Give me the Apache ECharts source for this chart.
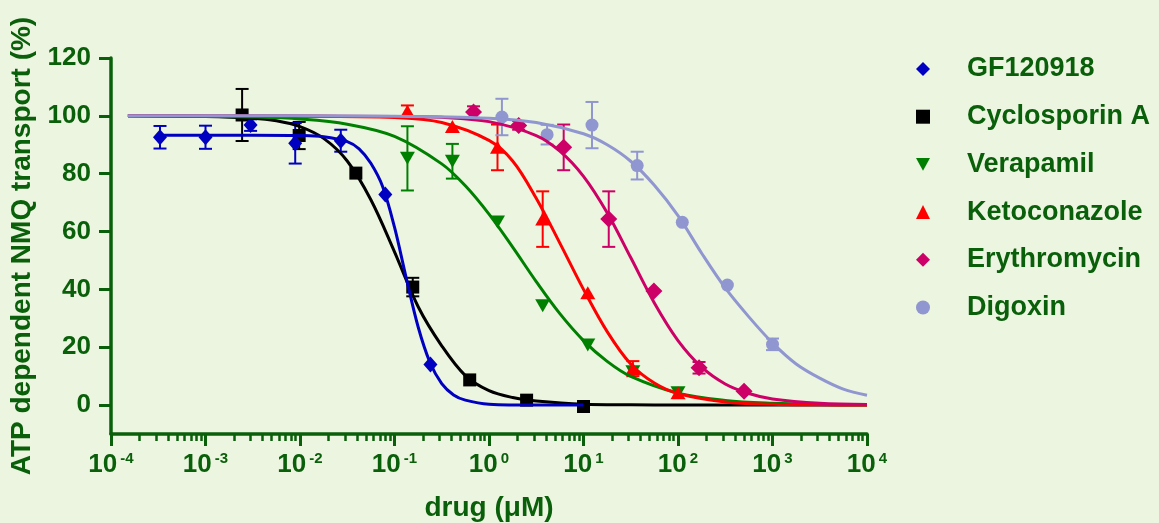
<!DOCTYPE html>
<html>
<head>
<meta charset="utf-8">
<script src="https://cdn.jsdelivr.net/npm/echarts@6/dist/echarts.min.js"></script>
<style>
  html, body { margin: 0; padding: 0; background: #ecf5e0; }
  #chart { width: 1159px; height: 523px; }
</style>
</head>
<body>
<div id="chart"></div>
<script>
const xExponents = [-4, -3, -2, -1, 0, 1, 2, 3, 4];
const yTicks = [0, 20, 40, 60, 80, 100, 120];

// measured points: concentration (uM), mean (%), error (0 = hidden by marker)
const gfConc = [0.00033, 0.001, 0.003, 0.0089, 0.027, 0.08, 0.24];
const gfMean = [92.6, 92.6, 96.8, 90.5, 91.4, 72.8, 14];
const gfErr = [3.9, 4, 2, 7, 3.8, 0, 0];

const csaConc = [0.00244, 0.0098, 0.039, 0.156, 0.625, 2.5, 10];
const csaMean = [100.3, 93.2, 80.2, 40.8, 8.7, 1.7, -0.5];
const csaErr = [9, 4.7, 0, 3.2, 0, 0, 0];

const verConc = [0.137, 0.41, 1.23, 3.7, 11.1, 33.3, 100];
const verMean = [85.3, 84.3, 63.3, 34.3, 20.8, 11.5, 4.3];
const verErr = [11.1, 6, 0, 0, 0, 0, 0];

const ketoConc = [0.137, 0.41, 1.23, 3.7, 11.1, 33.3, 100];
const ketoMean = [101.6, 96.3, 89.1, 64.3, 38.8, 12.6, 4.3];
const ketoErr = [2, 0, 7.9, 9.6, 0, 2.6, 0];

const eryConc = [0.686, 2.06, 6.17, 18.5, 55.6, 167, 500];
const eryMean = [101.3, 96.7, 89.1, 64.3, 39.4, 12.9, 4.8];
const eryErr = [2, 1.5, 7.9, 9.6, 0, 2, 0];

const digConc = [1.37, 4.12, 12.3, 37, 111, 333, 1000];
const digMean = [99.6, 93.5, 96.8, 82.8, 63.2, 41.5, 21];
const digErr = [6.3, 3.4, 8, 4.8, 0, 0, 2];

// fitted curves
const gfFitX = [0.00033, 0.001, 0.00316, 0.01, 0.0178, 0.0316, 0.0422, 0.0562, 0.075, 0.1, 0.133, 0.178, 0.237, 0.316, 0.422, 0.562, 1, 3.16, 10];
const gfFitY = [93.3, 93.3, 93.3, 93.2, 92.8, 91.1, 88.6, 83.6, 75.5, 61.5, 44, 27, 14.8, 7.4, 3.5, 1.7, 0.3, 0, 0];

const csaFitX = [0.000151, 0.001, 0.00316, 0.00562, 0.01, 0.0178, 0.0316, 0.0562, 0.1, 0.178, 0.316, 0.562, 1, 1.78, 3.16, 10, 31.6, 100, 1000, 10000];
const csaFitY = [100, 99.8, 99.2, 98.3, 96.3, 92.2, 84.4, 71, 53, 34, 20.5, 10.2, 5, 2.6, 1.4, 0.3, 0.1, 0, 0, 0];

const verFitX = [0.000151, 0.001, 0.00316, 0.01, 0.0316, 0.1, 0.316, 0.562, 1, 1.78, 3.16, 5.62, 10, 17.8, 31.6, 100, 316, 1000, 3160, 10000];
const verFitY = [100, 99.8, 99.6, 98.9, 97.1, 92.9, 83.4, 75.8, 66, 54.6, 42.7, 31.6, 22.3, 15.1, 9.9, 4.1, 1.6, 0.6, 0.2, 0.1];

const ketoFitX = [0.000151, 0.01, 0.1, 0.316, 1, 1.78, 3.16, 5.62, 10, 17.8, 31.6, 56.2, 100, 316, 1000, 3160, 10000];
const ketoFitY = [100, 99.9, 99.4, 97.7, 91.5, 84.4, 71.5, 56, 40, 25.4, 14.2, 7.6, 4, 1.1, 0.3, 0.1, 0];

const eryFitX = [0.000151, 0.1, 0.316, 1, 3.16, 5.62, 10, 17.8, 31.6, 56.2, 100, 178, 316, 562, 1000, 3160, 10000];
const eryFitY = [100, 99.8, 99.5, 98, 93.2, 87.8, 79.1, 66.5, 51, 35.3, 22.3, 13.1, 7.3, 4, 2.1, 0.6, 0.2];

const digFitX = [0.000151, 0.01, 0.1, 1, 3.16, 10, 17.8, 31.6, 56.2, 100, 178, 316, 562, 1000, 1780, 3160, 5620, 10000];
const digFitY = [100, 100, 99.9, 99.2, 97.7, 93.8, 90, 84.3, 76, 65.5, 52.5, 40.5, 30.5, 21.5, 14.2, 9.3, 5.5, 3.4];

const INK = "#0a5f0a";
const SANS = "'Liberation Sans', Arial, sans-serif";
const TRIANGLE_DOWN = "path://M0,0L10,0L5,9Z";

// drawing order follows the reference (later ones on top)
const drugs = [
  { name: "Cyclosporin A", color: "#000000", symbol: "rect", size: [13, 13], rotate: 0, conc: csaConc, mean: csaMean, err: csaErr, fitX: csaFitX, fitY: csaFitY },
  { name: "GF120918", color: "#0000c0", symbol: "diamond", size: [14, 16], rotate: 0, conc: gfConc, mean: gfMean, err: gfErr, fitX: gfFitX, fitY: gfFitY },
  { name: "Verapamil", color: "#008000", symbol: "triangle", size: [15, 13], rotate: 180, conc: verConc, mean: verMean, err: verErr, fitX: verFitX, fitY: verFitY },
  { name: "Ketoconazole", color: "#ff0000", symbol: "triangle", size: [15, 13], rotate: 0, conc: ketoConc, mean: ketoMean, err: ketoErr, fitX: ketoFitX, fitY: ketoFitY },
  { name: "Erythromycin", color: "#cc0066", symbol: "diamond", size: [17, 17], rotate: 0, conc: eryConc, mean: eryMean, err: eryErr, fitX: eryFitX, fitY: eryFitY },
  { name: "Digoxin", color: "#9096d0", symbol: "circle", size: 13, rotate: 0, conc: digConc, mean: digMean, err: digErr, fitX: digFitX, fitY: digFitY }
];

const legendItems = [
  { name: "GF120918" },
  { name: "Cyclosporin A" },
  { name: "Verapamil", icon: TRIANGLE_DOWN },
  { name: "Ketoconazole" },
  { name: "Erythromycin" },
  { name: "Digoxin" }
];

function renderErrorBar(params, api) {
  const x = api.value(0);
  const mean = api.value(1);
  const err = api.value(2);
  if (!err) {
    return null;
  }
  const top = api.coord([x, mean + err]);
  const bottom = api.coord([x, mean - err]);
  const half = 6.5;
  const style = { stroke: api.visual("color"), lineWidth: 2 };
  return {
    type: "group",
    children: [
      { type: "line", shape: { x1: top[0], y1: top[1], x2: bottom[0], y2: bottom[1] }, style },
      { type: "line", shape: { x1: top[0] - half, y1: top[1], x2: top[0] + half, y2: top[1] }, style },
      { type: "line", shape: { x1: bottom[0] - half, y1: bottom[1], x2: bottom[0] + half, y2: bottom[1] }, style }
    ]
  };
}

function buildSeries(drug) {
  return [
    {
      name: drug.name + " fit",
      type: "line",
      data: drug.fitX.map((x, i) => [x, drug.fitY[i]]),
      smooth: 0.35,
      symbol: "none",
      silent: true,
      lineStyle: { color: drug.color, width: 3 }
    },
    {
      name: drug.name + " sem",
      type: "custom",
      data: drug.conc.map((x, i) => [x, drug.mean[i], drug.err[i]]),
      encode: { x: 0, y: 1 },
      renderItem: renderErrorBar,
      itemStyle: { color: drug.color },
      silent: true
    },
    {
      name: drug.name,
      type: "scatter",
      data: drug.conc.map((x, i) => [x, drug.mean[i]]),
      symbol: drug.symbol,
      symbolSize: drug.size,
      symbolRotate: drug.rotate,
      itemStyle: { color: drug.color, opacity: 1 },
      silent: true
    }
  ];
}

const chart = echarts.init(document.getElementById("chart"));

chart.setOption({
  backgroundColor: "#ecf5e0",
  animation: false,
  grid: { left: 111, right: 292, top: 58, bottom: 89, outerBoundsMode: "none", containLabel: false },
  legend: {
    data: legendItems,
    orient: "vertical",
    left: 916,
    top: 54,
    padding: 0,
    itemWidth: 14,
    itemHeight: 14,
    itemGap: 17.7,
    symbolRotate: 0,
    selectedMode: false,
    textStyle: { color: INK, fontFamily: SANS, fontWeight: "bold", fontSize: 27, lineHeight: 30, padding: [0, 0, 0, 32] }
  },
  xAxis: {
    type: "log",
    logBase: 10,
    min: 0.0001,
    max: 10000,
    splitNumber: 8,
    name: "drug (\u03bcM)",
    nameLocation: "middle",
    nameGap: 60,
    nameTextStyle: { color: INK, fontFamily: SANS, fontWeight: "bold", fontSize: 28 },
    axisLine: { onZero: false, lineStyle: { color: INK, width: 3.5 } },
    axisTick: { length: 12, lineStyle: { color: INK, width: 3 } },
    minorTick: { show: true, splitNumber: 9, length: 7, lineStyle: { color: INK, width: 2.5 } },
    splitLine: { show: false },
    axisLabel: {
      margin: 17,
      formatter(value) {
        const exp = Math.round(Math.log10(value));
        return xExponents.includes(exp) ? "{b|10}{s|" + exp + "}" : "";
      },
      rich: {
        b: { color: INK, fontFamily: SANS, fontWeight: "bold", fontSize: 26, lineHeight: 28 },
        s: { color: INK, fontFamily: SANS, fontWeight: "bold", fontSize: 15, lineHeight: 20, verticalAlign: "top", padding: [0, 0, 0, 3] }
      }
    }
  },
  yAxis: {
    type: "value",
    min: -10,
    max: 120,
    name: "ATP dependent NMQ transport (%)",
    nameLocation: "middle",
    nameGap: 72,
    nameTextStyle: { color: INK, fontFamily: SANS, fontWeight: "bold", fontSize: 28 },
    axisLine: { show: true, onZero: false, lineStyle: { color: INK, width: 3.5 } },
    axisTick: { show: true, length: 12, customValues: yTicks, lineStyle: { color: INK, width: 3 } },
    splitLine: { show: false },
    axisLabel: {
      customValues: yTicks,
      margin: 20,
      color: INK,
      fontFamily: SANS,
      fontWeight: "bold",
      fontSize: 26
    }
  },
  series: drugs.flatMap(buildSeries)
});
</script>
</body>
</html>
